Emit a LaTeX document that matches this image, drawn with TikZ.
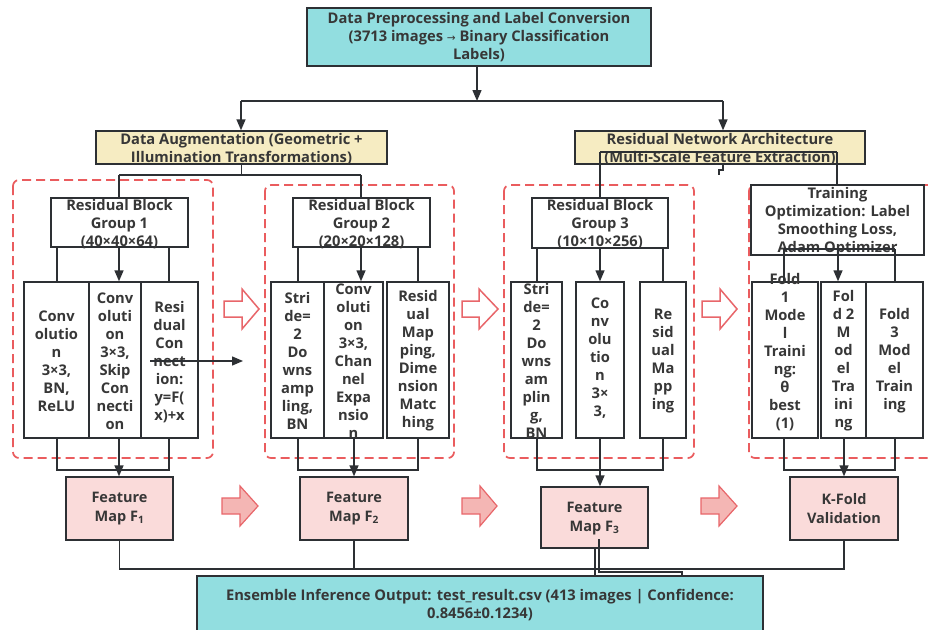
\documentclass[tikz,border=0pt]{standalone}
\usepackage{fontspec}
\setmainfont{Open Sans}
\newfontfamily\symf{DejaVu Sans}
\usetikzlibrary{arrows.meta}
\definecolor{cyanf}{RGB}{146,222,224}
\definecolor{yelf}{RGB}{246,236,194}
\definecolor{pinkf}{RGB}{250,219,218}
\definecolor{linec}{RGB}{45,48,52}
\definecolor{textc}{RGB}{55,55,55}
\definecolor{dashc}{RGB}{234,92,94}
\definecolor{arrf}{RGB}{244,182,180}
\definecolor{arrd}{RGB}{232,102,106}
\newcommand\myBlkArr[5]{%
  \draw[#5] (#1,#4-8) -- (#2,#4-8) -- (#2,#4-20) -- (#3,#4) -- (#2,#4+20) -- (#2,#4+8) -- (#1,#4+8) -- cycle;}
\begin{document}
\begin{tikzpicture}[x=1pt,y=-1pt,
  box/.style={draw=linec,line width=1.4pt,inner sep=0},
  txt/.style={font=\bfseries\fontsize{14.7}{18}\selectfont,text=textc,align=center,inner sep=0},
  ftxt/.style={font=\bfseries\fontsize{14.5}{19}\selectfont,text=textc,align=center,inner sep=0},
  conn/.style={draw=linec,line width=1.4pt},
  arr/.style={-{Triangle[length=11pt,width=9pt]}},
  dashbox/.style={draw=dashc,line width=1.7pt,dash pattern=on 9pt off 5pt,rounded corners=6pt},
  hollow/.style={draw=arrd,line width=1.5pt,fill=white,line join=miter},
  solidarr/.style={draw=arrd,line width=1.2pt,fill=arrf,line join=miter}]
\useasboundingbox[fill=white] (0,0) rectangle (928,629);

% dashed group frames
\draw[dashbox] (13,180) rectangle (213,458);
\draw[dashbox] (265,185) rectangle (454,458);
\draw[dashbox] (504,185) rectangle (694,458);
\draw[dashbox] (749,185) rectangle (945,458);

% top
\node[box,fill=cyanf,minimum width=344,minimum height=58] (top) at (479,37) {};
\node[txt] at (479,37) {Data Preprocessing and Label Conversion\\(3713 images {\mdseries\symf\fontsize{10.5}{18}\selectfont →} Binary Classification\\Labels)};

\node[box,fill=yelf,minimum width=291,minimum height=33] (aug) at (241.5,147.5) {};
\node[txt] at (241.5,149) {Data Augmentation (Geometric +\\Illumination Transformations)};
\node[box,fill=yelf,minimum width=290,minimum height=33] (res) at (720,147.5) {};
\node[txt] at (720,149) {Residual Network Architecture\\(Multi-Scale Feature Extraction)};

\coordinate (split) at (477,101);
\coordinate (sl) at (241,101);
\coordinate (sr) at (723,101);
\draw[conn,arr] (top.south -| split) -- (split);
\draw[conn] (sl) -- (sr);
\draw[conn,arr] (sl) -- (sl |- aug.north);
\draw[conn,arr] (sr) -- (sr |- res.north);

% group boxes
\node[box,minimum width=137,minimum height=49] (g1) at (119.5,222.5) {};
\node[txt] at (119.5,224) {Residual Block\\Group 1\\(40×40×64)};
\node[box,minimum width=137,minimum height=49] (g2) at (361.5,222.5) {};
\node[txt] at (361.5,224) {Residual Block\\Group 2\\(20×20×128)};
\node[box,minimum width=136,minimum height=50] (g3) at (600,223) {};
\node[txt] at (600,224) {Residual Block\\Group 3\\(10×10×256)};
\node[box,minimum width=173,minimum height=70] (g4) at (837.5,220) {};
\node[txt] at (837.5,222) {Training\\Optimization: Label\\Smoothing Loss,\\Adam Optimizer};

% connectors from augmentation / resnet
\coordinate (al) at (119,175);
\coordinate (ar) at (361,175);
\draw[conn] (aug.south) -- (aug.south |- al);
\draw[conn] (al) -- (ar);
\draw[conn] (al) -- (al |- g1.north);
\draw[conn] (ar) -- (ar |- g2.north);
\coordinate (rl) at (600,152);
\coordinate (rr) at (837,152);
\draw[conn] (rl) -- (rr);
\draw[conn] (rl) -- (rl |- g3.north);
\draw[conn] (rr) -- (rr |- g4.north);
\coordinate (stub) at (723,165);
\draw[conn,line width=1.2pt] (stub) -- ++(0,5) -- ++(-4,0) -- ++(0,5);

% sub boxes
\node[box,minimum width=65,minimum height=156] (g1a) at (56.5,360) {};
\node[box,minimum width=52,minimum height=156] (g1b) at (115,360) {};
\node[box,minimum width=57,minimum height=156] (g1c) at (169.5,360) {};
\node[txt] at (56.5,361) {Conv\\olutio\\n\\3×3,\\BN,\\ReLU};
\node[txt] at (115,361) {Conv\\oluti\\on\\3×3,\\Skip\\Con\\necti\\on};
\node[txt] at (169.5,362) {Resi\\dual\\Con\\nect\\ion:\\y=F(\\x)+x};

\node[box,minimum width=53,minimum height=156] (g2a) at (297.5,360) {};
\node[box,minimum width=59,minimum height=156] (g2b) at (353.5,360) {};
\node[box,minimum width=62,minimum height=156] (g2c) at (418,360) {};
\node[txt] at (297.5,361) {Stri\\de=\\2\\Do\\wns\\amp\\ling,\\BN};
\node[txt] at (353.5,361) {Conv\\oluti\\on\\3×3,\\Chan\\nel\\Expa\\nsio\\n};
\node[txt] at (418,361) {Resid\\ual\\Map\\ping,\\Dime\\nsion\\Matc\\hing};

\node[box,minimum width=51,minimum height=156] (g3a) at (536.5,360) {};
\node[box,minimum width=48,minimum height=156] (g3b) at (600,360) {};
\node[box,minimum width=46,minimum height=156] (g3c) at (663,360) {};
\node[txt] at (536.5,361) {Stri\\de=\\2\\Do\\wns\\am\\plin\\g,\\BN};
\node[txt] at (600,358) {Co\\nv\\olu\\tio\\n\\3×\\3,};
\node[txt] at (663,361) {Re\\sid\\ual\\Ma\\pp\\ing};

\node[box,minimum width=66,minimum height=156] (g4a) at (785,360) {};
\node[box,minimum width=45,minimum height=156] (g4b) at (843.5,360) {};
\node[box,minimum width=57,minimum height=156] (g4c) at (894.5,360) {};
\node[txt] at (785,352) {Fold\\1\\Mode\\l\\Traini\\ng:\\θ\\best\\(1)};
\node[txt] at (843.5,361) {Fol\\d 2\\M\\od\\el\\Tra\\ini\\ng};
\node[txt] at (894.5,361) {Fold\\3\\Mod\\el\\Train\\ing};

% group -> sub boxes
\draw[conn] (57,0 |- g1.south) -- (57,0 |- g1a.north);
\draw[conn,arr] (119,0 |- g1.south) -- (119,0 |- g1b.north);
\draw[conn] (169,0 |- g1.south) -- (169,0 |- g1c.north);
\draw[conn] (298,0 |- g2.south) -- (298,0 |- g2a.north);
\draw[conn,arr] (361,0 |- g2.south) -- (361,0 |- g2b.north);
\draw[conn] (418,0 |- g2.south) -- (418,0 |- g2c.north);
\draw[conn] (537,0 |- g3.south) -- (537,0 |- g3a.north);
\draw[conn,arr] (600,0 |- g3.south) -- (600,0 |- g3b.north);
\draw[conn] (663,0 |- g3.south) -- (663,0 |- g3c.north);
\coordinate (tl) at (784,249);
\coordinate (tr) at (895,249);
\draw[conn] (tl) -- (tr);
\draw[conn] (tl) -- (tl |- g4a.north);
\draw[conn,arr] (838,0 |- tl) -- (838,0 |- g4b.north);
\draw[conn] (tr) -- (tr |- g4c.north);

% inner arrow group 1
\coordinate (ia) at (150,361);
\coordinate (ib) at (243,361);
\draw[conn,arr] (ia) -- (ib);

% feature boxes
\node[box,fill=pinkf,minimum width=107,minimum height=63] (f1) at (119.5,508.5) {};
\node[ftxt] at (119.5,508.5) {Feature\\Map F\textsubscript{1}};
\node[box,fill=pinkf,minimum width=108,minimum height=63] (f2) at (354,508.5) {};
\node[ftxt] at (354,508.5) {Feature\\Map F\textsubscript{2}};
\node[box,fill=pinkf,minimum width=107,minimum height=61] (f3) at (594.5,517.5) {};
\node[ftxt] at (594.5,518.5) {Feature\\Map F\textsubscript{3}};
\node[box,fill=pinkf,minimum width=108,minimum height=63] (kf) at (844,508.5) {};
\node[ftxt] at (844,508.5) {K-Fold\\Validation};

% sub boxes -> feature boxes
\draw[conn] (57,0 |- g1a.south) -- (57,470) -- (169,470) -- (169,0 |- g1c.south);
\draw[conn,arr] (119,0 |- g1b.south) -- (119,0 |- f1.north);
\draw[conn] (298,0 |- g2a.south) -- (298,470) -- (418,470) -- (418,0 |- g2c.south);
\draw[conn,arr] (354,0 |- g2b.south) -- (354,0 |- f2.north);
\draw[conn] (537,0 |- g3a.south) -- (537,470) -- (663,470) -- (663,0 |- g3c.south);
\draw[conn,arr] (600,0 |- g3b.south) -- (600,0 |- f3.north);
\draw[conn] (784,0 |- g4a.south) -- (784,470) -- (895,470) -- (895,0 |- g4c.south);
\draw[conn,arr] (844,0 |- g4b.south) -- (844,0 |- kf.north);

% ensemble
\node[box,fill=cyanf,minimum width=566,minimum height=66] (ens) at (480,609) {};
\node[txt] at (480,605) {Ensemble Inference Output: test\_result.csv (413 images | Confidence:\\0.8456±0.1234)};

\coordinate (bl) at (119,569);
\draw[conn] (f1.south) |- (kf.south |- bl) -- (kf.south);
\draw[conn] (f2.south) -- (f2.south |- bl);
\draw[conn] (595,0 |- f3.south) -- (595,0 |- ens.north);
\coordinate (fa) at (599,539);
\draw[conn] (fa) -- (599,572) -- (682,572) -- (682,0 |- ens.north);

% block arrows
\myBlkArr{224}{242}{259}{309}{hollow}
\myBlkArr{462}{479}{498}{309}{hollow}
\myBlkArr{702}{720}{737}{309}{hollow}
\myBlkArr{222}{240}{258}{506}{solidarr}
\myBlkArr{462}{480}{497}{506}{solidarr}
\myBlkArr{701}{719}{737}{506}{solidarr}
\end{tikzpicture}
\end{document}
